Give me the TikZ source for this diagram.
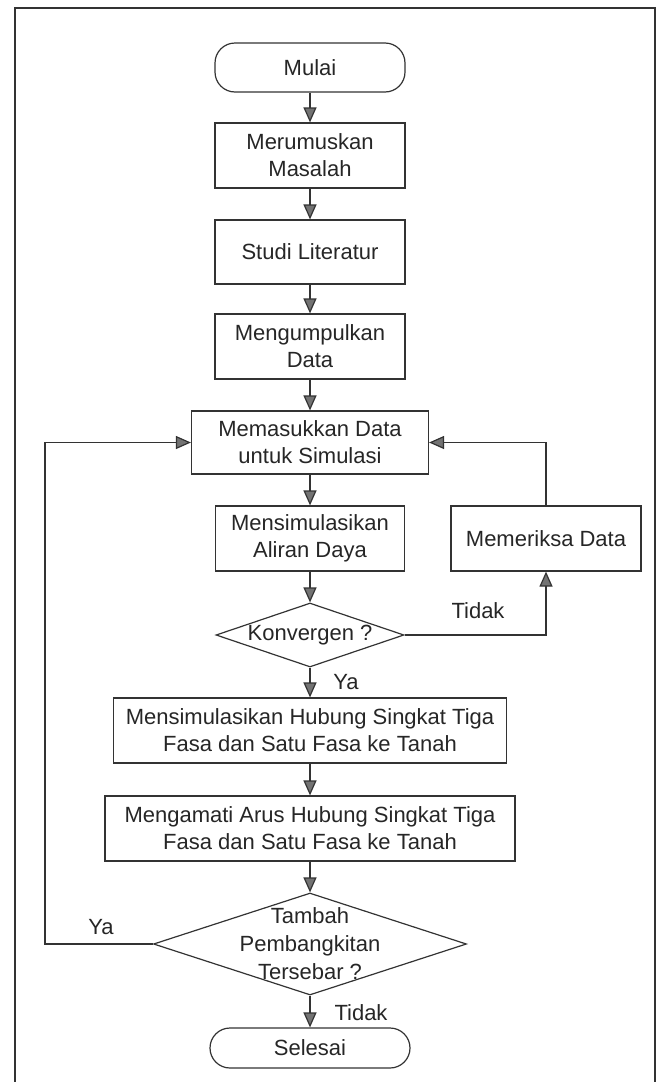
\documentclass[tikz,border=0pt]{standalone}
\usepackage{fontspec}
\setmainfont{Liberation Sans}
\usetikzlibrary{shapes.geometric,arrows.meta}
\begin{document}
\begin{tikzpicture}[x=1pt,y=-1pt,
  every node/.style={font=\fontsize{22}{27}\selectfont, text=black!85, align=center, inner sep=0pt},
  ln/.style={draw=black!80, line width=1.2pt},
  box/.style={ln, rectangle, minimum height=65pt},
  term/.style={ln, rectangle, rounded corners=20pt},
  dia/.style={ln, diamond, inner sep=0pt},
  arr/.style={ln, -{Triangle[length=15pt,width=13pt,fill=black!55]}},
  lbl/.style={}]
\useasboundingbox (0,0) rectangle (659,1082);
\draw[ln] (15,1095) -- (15,8) -- (655,8) -- (655,1095);

\node[term, minimum width=190pt, minimum height=49pt] (mul) at (310,67.5) {Mulai};
\node[box, minimum width=190pt] (mer) at (310,155.5) {Merumuskan\\Masalah};
\node[box, minimum width=190pt, minimum height=64pt] (stu) at (310,252) {Studi Literatur};
\node[box, minimum width=190pt] (men) at (310,346.5) {Mengumpulkan\\Data};
\node[box, minimum width=237pt, minimum height=63pt] (mem) at (310,442.5) {Memasukkan Data\\untuk Simulasi};
\node[box, minimum width=189pt] (ali) at (310,538.5) {Mensimulasikan\\Aliran Daya};
\node[box, minimum width=190pt] (per) at (546,538.5) {Memeriksa Data};
\node[dia, minimum width=188pt, minimum height=64pt] (kon) at (310,635) {};
\node (kont) at (kon.center) {Konvergen ?};
\node[box, minimum width=393pt] (hub) at (310,730.5) {Mensimulasikan Hubung Singkat Tiga\\Fasa dan Satu Fasa ke Tanah};
\node[box, minimum width=410pt] (ama) at (310,828.5) {Mengamati Arus Hubung Singkat Tiga\\Fasa dan Satu Fasa ke Tanah};
\node[dia, minimum width=313pt, minimum height=102pt] (tam) at (310,944) {};
\node[font=\fontsize{22}{28}\selectfont] (tamt) at (tam.center) {Tambah\\Pembangkitan\\Tersebar ?};
\node[term, minimum width=200pt, minimum height=40pt] (sel) at (310,1048) {Selesai};

\coordinate (lp) at (45,944);

\draw[arr] (mul) -- (mer);
\draw[arr] (mer) -- (stu);
\draw[arr] (stu) -- (men);
\draw[arr] (men) -- (mem);
\draw[arr] (mem) -- (ali);
\draw[arr] (ali) -- (kon);
\draw[arr] (kon) -- (hub);
\draw[arr] (hub) -- (ama);
\draw[arr] (ama) -- (tam);
\draw[arr] (tam) -- (sel);
\draw[arr] (kon.east) -| (per.south);
\draw[arr] (per.north) |- (mem.east);
\draw[arr] (tam.west) -- (lp) |- (mem.west);

\node (ya1) at (346,682) {Ya};
\node (td1) at (478,611) {Tidak};
\node (ya2) at (101,927) {Ya};
\node (td2) at (361,1013) {Tidak};
\end{tikzpicture}
\end{document}
